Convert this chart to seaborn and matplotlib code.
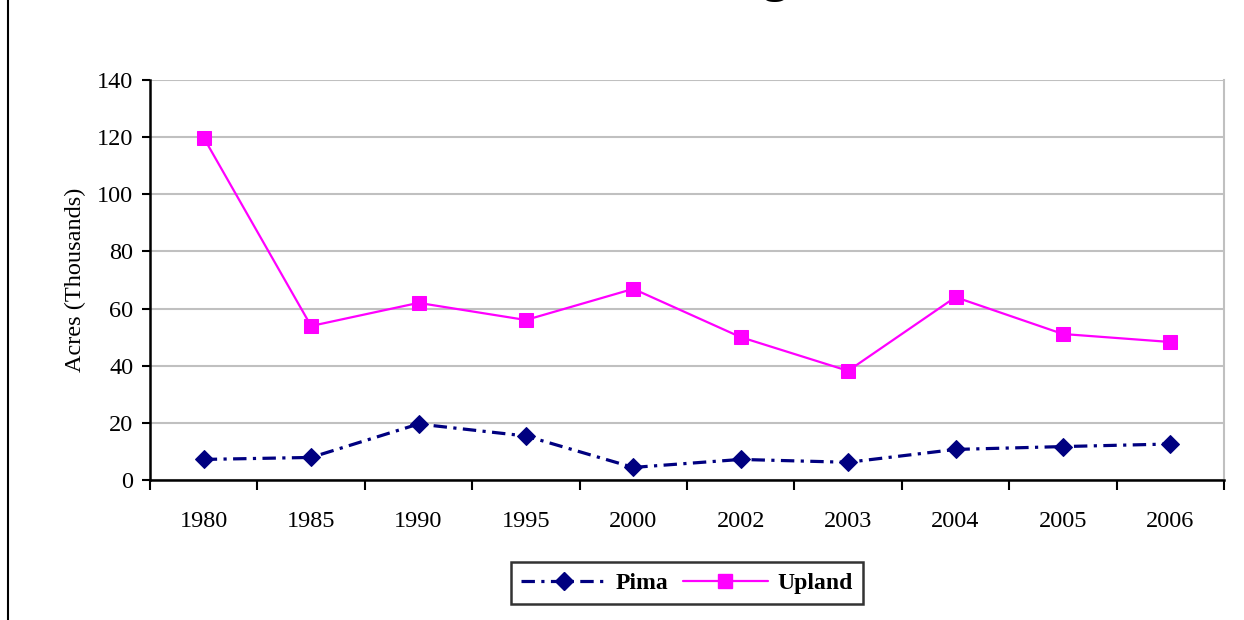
import matplotlib
matplotlib.use("Agg")
import matplotlib.pyplot as plt
import seaborn as sns
import pandas as pd
from matplotlib.lines import Line2D

# ---- data (acres, thousands) ----
years = ['1980', '1985', '1990', '1995', '2000', '2002', '2003', '2004', '2005', '2006']
pima = [7.2, 7.9, 19.6, 15.4, 4.4, 7.2, 6.2, 10.7, 11.7, 12.6]
upland = [119.8, 53.9, 62.0, 56.0, 66.9, 50.0, 38.2, 64.0, 51.1, 48.3]
y_ticks = [0, 20, 40, 60, 80, 100, 120, 140]

df = pd.DataFrame({'pos': range(len(years)), 'Year': years, 'Pima': pima, 'Upland': upland})

sns.set_theme(style='white')
plt.rcParams['font.family'] = ['Liberation Serif', 'DejaVu Serif']
plt.rcParams['text.color'] = 'black'
plt.rcParams['axes.labelcolor'] = 'black'
plt.rcParams['xtick.color'] = 'black'
plt.rcParams['ytick.color'] = 'black'

fig = plt.figure(figsize=(12.44, 6.2), dpi=100)
ax = fig.add_axes([150 / 1244, 1 - 480 / 620, (1224 - 150) / 1244, 400 / 620])

navy = '#000080'
magenta = '#FF00FF'
pima_dash = [4.2, 2.0, 1.0, 2.0]

sns.lineplot(data=df, x='pos', y='Pima', ax=ax, color=navy, lw=2.3,
             marker='D', markersize=9, markeredgecolor=navy, zorder=3)
ax.lines[-1].set_dashes(pima_dash)
sns.lineplot(data=df, x='pos', y='Upland', ax=ax, color=magenta, lw=1.6,
             marker='s', markersize=10, markeredgecolor=magenta, zorder=4)

ax.set_xlim(-0.5, len(years) - 0.5)
ax.set_ylim(0, 140)
ax.set_yticks(y_ticks)
ax.yaxis.grid(True, color='#c0c0c0', lw=1.5)
ax.set_axisbelow(True)

# category labels centred, ticks on category boundaries
ax.set_xticks(range(len(years)))
ax.set_xticklabels(years, fontsize=17.5)
ax.set_xticks([i - 0.5 for i in range(len(years) + 1)], minor=True)
ax.tick_params(axis='x', which='major', length=0, pad=22)
ax.tick_params(axis='x', which='minor', direction='out', length=7, width=1.5, color='black', bottom=True)
ax.tick_params(axis='y', direction='out', length=6, width=1.5, color='black', left=True, labelsize=17.5, pad=6)

for side in ['left', 'bottom']:
    ax.spines[side].set_color('black')
    ax.spines[side].set_linewidth(1.8)
ax.spines['right'].set_color('#c0c0c0')
ax.spines['right'].set_linewidth(1.5)
ax.spines['top'].set_visible(False)

ax.set_xlabel('')
ax.set_ylabel('Acres (Thousands)', fontsize=17.5, labelpad=8)

# legend below
handles = [
    Line2D([], [], color=navy, lw=2.3, dashes=pima_dash, marker='D', markersize=9),
    Line2D([], [], color=magenta, lw=1.6, marker='s', markersize=10),
]
leg = fig.legend(handles, ['Pima', 'Upland'], loc='center', bbox_to_anchor=(687 / 1244, 1 - 583 / 620),
                 ncol=2, frameon=True, fancybox=False, handlelength=3.6, columnspacing=0.6,
                 handletextpad=0.4, borderpad=0.45, borderaxespad=0, prop={'weight': 'bold', 'size': 17})
leg.get_frame().set_edgecolor('black')
leg.get_frame().set_linewidth(1.8)

# clipped title (only the descender shows) and chart-area border
fig.text(645 / 1244, 1 + 9 / 620, 'Cotton Acreage', ha='center', va='baseline',
         fontsize=36, fontweight='bold')
fig.add_artist(Line2D([8 / 1244, 8 / 1244], [0, 1], color='black', lw=1.5, transform=fig.transFigure))

fig.savefig('out.png', dpi=100)
